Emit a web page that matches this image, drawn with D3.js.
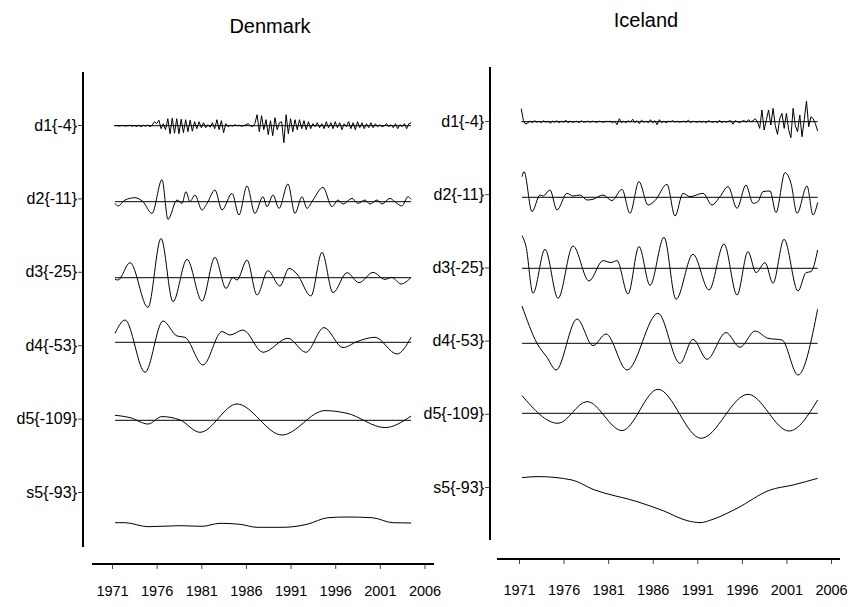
<!DOCTYPE html>
<html><head><meta charset="utf-8">
<script src="https://cdn.jsdelivr.net/npm/d3@7"></script>
<style>
body{margin:0;background:#fff}
text{font-family:Arial,"Liberation Sans",Helvetica,sans-serif;fill:#000}
</style>
</head><body>
<svg id="c" width="855" height="607"></svg>
<script>
// ---------- data ----------
const years = [1971,1976,1981,1986,1991,1996,2001,2006];
const levels = ["d1{-4}","d2{-11}","d3{-25}","d4{-53}","d5{-109}","s5{-93}"];
const d1Start = 1971.25, d1Step = 0.25;

// Denmark
const dkD1 = [0,0.3,-0.3,0,0.3,-0.3,0,0.5,-0.5,0.3,-0.8,0.5,-1,0.5,-0.5,0.8,-1,0.5,
 4,2,5.5,-3,2,-4,7,-8,7.5,-7.5,7,-8,6.5,-7,6,-6,5.5,-5.5,4,-3,4,-2,3,-2,1,-1.5,3,-3,6,-4,5,-7,2,
 -1,0.5,-0.5,1,0,0.5,-0.5,0,1,2,0,-1,2,11,-6,10,-4,6,-9,5,-10,8,-4,3,4,-17,11,-8,7,-6,
 6,-4,6,-3,5,-4,4,-3,2,-1,3,-2,2,-3,4,-2,3,-3,4,-2,3,-4,2,-1,4,-3,3,-4,4,-2,
 3,-3,2,-2,3,-2,2,-1,1,-1,0,2,-1,1,-2,2,-3,1,-1,2,-3,2,3];
const dkD2T = [1971.34,1971.67,1972.46,1973.58,1974.47,1975.48,1976.60,1977.27,1978.28,1978.84,1979.28,1979.73,1980.29,1981.08,1981.64,1982.53,1983.32,1984.44,1985.22,1986.12,1987.01,1987.91,1988.36,1989.03,1989.70,1990.71,1991.49,1992.28,1992.84,1993.51,1994.63,1995.64,1996.31,1996.87,1997.88,1998.55,1999.33,1999.89,2000.68,2001.24,2002.13,2002.69,2003.47,2004.15,2004.5];
const dkD2V = [-1.7,-4.3,1.7,4,0,-11.7,22,-17.7,1.7,-1.7,10,0,6.7,-8.3,-1.7,11.7,-8.3,8.3,-13.3,15.7,-11.7,5,-5,6.7,-6.7,17.7,-11.7,5,-6.7,1.7,14.3,-5,1.7,-2.3,3.3,-1.7,1.7,-2.3,1.7,-2.3,3.3,0,-4.3,5,2.3];
const dkD3T = [1971.34,1971.67,1973.02,1975.03,1976.49,1977.83,1979.40,1981.08,1982.53,1983.77,1984.55,1985.00,1986.12,1987.24,1988.47,1989.81,1990.82,1991.72,1993.28,1994.52,1995.75,1997.32,1998.66,2000.23,2001.57,2002.35,2003.36,2004.5];
const dkD3V = [-1.7,-2.3,15,-29.7,39.3,-24,18.3,-23.3,20.3,-10.7,0.3,-2.3,17.7,-17.3,7,-8.3,9.3,3.7,-18.3,25.3,-15,5,-5,5.3,-1.7,0.3,-6.3,0.3];
const dkD4T = [1971.34,1972.46,1974.70,1976.71,1978.28,1979.17,1981.19,1983.32,1984.21,1985.67,1987.91,1990.71,1992.72,1994.74,1996.87,1998.44,2000.45,2002.92,2004.5];
const dkD4V = [9,22.3,-30,21.3,6.3,5,-22.7,10.7,7.3,12.3,-10,4,-10,14.7,-5.3,0.7,5,-11.7,5];
const dkD5T = [1971.34,1973.02,1975.03,1976.60,1978.62,1980.85,1985.00,1990.04,1994.85,1997.32,2001.57,2004.5];
const dkD5V = [5,2.7,-3.7,3.7,0.3,-12,16.3,-14.7,9.7,7,-7.3,4.3];
const dkS5T = [1971.34,1972.46,1975.03,1978.62,1981.08,1983.10,1985.33,1987.24,1990.15,1992.84,1995.19,1997.32,2000.12,2002.47,2004.5];
const dkS5V = [-30.2,-30.2,-34.2,-33.2,-33.8,-30.8,-31.8,-34.8,-34.8,-31.8,-25.2,-24.5,-25.2,-30.2,-30.5];

// Iceland
const isD1 = [13,1,-2.5,-1,0.5,-1,1,-0.5,0.5,-1,
 1,-0.5,0.5,-1.5,0.5,-0.5,1,-1,0.5,-0.5,
 1.5,-1,0.5,-0.5,0,0.5,-1,1,-0.5,0,
 0.5,-0.5,0.5,0,-0.5,0.5,0,-0.5,0.5,0,
 0.5,-1,0.5,-3,3,-1,0.5,-1,1,-0.5,
 2.5,-1,1,-2,1.5,-0.5,0.5,-1,2,-1,
 1,-3,2,-1,0.5,-1,0.5,0,1,-0.5,
 0.5,-0.5,0,0.5,-0.5,1.5,-1,0.5,0,-0.5,
 0.5,-0.5,0.5,-1,1,0,-0.5,0.5,-1,1.5,
 -1,0.5,-0.5,0.5,1,-2.5,1,0,-1,0.5,
 1,-0.5,2,0,1,3,0,-6.7,11.7,-8.3,
 2,11.7,-3.3,13.3,-4,-12.7,3,8.3,-6.7,8.3,
 -8,-16,13.3,-4,-10,6.7,-15,2,20.7,-5,
 5,3,-2,-9.3];
const isD2T = [1971.34,1971.56,1972.46,1973.36,1973.69,1974.48,1975.26,1976.38,1977.06,1977.84,1978.63,1979.30,1980.42,1981.43,1982.55,1983.45,1984.46,1985.47,1986.26,1987.60,1988.50,1989.40,1990.18,1991.64,1992.65,1993.55,1994.45,1995.46,1996.46,1997.25,1997.81,1998.37,1999.16,1999.83,2000.84,2001.51,2002.19,2003.31,2003.98,2004.5];
const isD2V = [20.7,25.7,-14.3,2.3,1.3,7.3,-12.7,4,1.3,2.3,-2.7,-2,2.3,-3.3,8,-16,15.7,-7.7,-3.3,13,-18.7,4,0.7,4,-7.7,0.7,10.7,-11,12.3,-6,-4.3,5.7,6.3,-15.3,24.7,14,-16,11.3,-17.7,-5.3];
const isD3T = [1971.34,1971.79,1972.57,1973.92,1975.38,1977.06,1978.85,1980.42,1981.32,1981.99,1983.23,1984.46,1985.70,1987.27,1988.61,1990.52,1992.32,1994.00,1995.46,1996.69,1997.59,1998.60,1999.49,2000.73,2002.30,2003.20,2003.76,2004.5];
const isD3V = [32.7,21.7,-25,19,-30,22.3,-12.7,7.7,5.7,7.7,-25.7,21.7,-17,31,-31,14,-21.7,24.3,-26.7,16.7,-4.3,5.7,-15,29,-22.7,-4.3,-3.3,18.3];
const isD4T = [1971.34,1973.02,1974.14,1975.15,1977.51,1979.30,1980.76,1983.12,1986.59,1989.06,1990.52,1992.09,1994.22,1995.79,1997.48,1998.93,2000.50,2002.30,2004.5];
const isD4V = [37.3,0,-14,-26.7,24.3,-2.3,9.3,-26.7,30,-20,4,-16,10.7,-4,12.3,5,3.3,-31.7,34];
const isD5T = [1971.34,1975.38,1978.63,1982.55,1986.59,1991.42,1996.69,2001.29,2004.5];
const isD5V = [17.7,-10,11.7,-17.3,24,-25,19,-17.7,13.3];
const isS5T = [1971.34,1973.13,1976.95,1979.30,1984.24,1987.15,1989.85,1991.31,1992.76,1995.46,1999.16,2001.74,2004.5];
const isS5V = [9.7,10.7,7.3,-2,-14.3,-23.3,-33.3,-35.3,-32,-21,-2.7,2.3,9];

// ---------- drawing ----------
const svg = d3.select("#c");
const d1Times = n => d3.range(n).map(i => d1Start + i * d1Step);

const panels = [
 {title:"Denmark", tx:270, ty:33, xr:[112,424.5], axY:564, axX:[92,434], yX:83, yR:[72,547],
  lab:[125,492], base:[125.7,201.7,277.7,342.3,420.3,492.5], tly:596,
  series:[[d1Times(dkD1.length),dkD1],[dkD2T,dkD2V],[dkD3T,dkD3V],[dkD4T,dkD4V],[dkD5T,dkD5V],[dkS5T,dkS5V]]},
 {title:"Iceland", tx:646, ty:27, xr:[519,831], axY:559, axX:[497,840], yX:490, yR:[67,540],
  lab:[121,487], base:[121.7,197.3,268.3,343.3,413.3,487.3], tly:595,
  series:[[d1Times(isD1.length),isD1],[isD2T,isD2V],[isD3T,isD3V],[isD4T,isD4V],[isD5T,isD5V],[isS5T,isS5V]]}
];

const v = d3.scaleLinear().domain([-40,40]).range([40,-40]);

panels.forEach(p => {
  const g = svg.append("g");
  const x = d3.scaleLinear().domain([years[0], years[years.length-1]]).range(p.xr);
  const yl = d3.scalePoint().domain(levels).range(p.lab);

  g.append("text").attr("x",p.tx).attr("y",p.ty).attr("text-anchor","middle")
   .style("font-size","20px").text(p.title);

  // x axis
  const xa = g.append("g").attr("transform",`translate(0,${p.axY})`)
   .call(d3.axisBottom(x).tickValues(years).tickFormat(d3.format("d")).tickSize(5).tickPadding(14));
  xa.select(".domain").remove();
  xa.selectAll(".tick line").attr("stroke","#444");
  xa.selectAll(".tick text").style("font-size","14.5px").attr("font-family",null).attr("dy",null)
    .attr("y", p.tly - p.axY);
  g.append("line").attr("x1",p.axX[0]).attr("x2",p.axX[1]).attr("y1",p.axY).attr("y2",p.axY)
   .attr("stroke","#000").attr("stroke-width",2);

  // y label axis
  const ya = g.append("g").attr("transform",`translate(${p.yX},0)`)
   .call(d3.axisLeft(yl).tickSize(5).tickPadding(1));
  ya.select(".domain").remove();
  ya.selectAll(".tick line").attr("stroke","#444");
  ya.selectAll(".tick text").style("font-size","16px").attr("font-family",null);
  g.append("line").attr("x1",p.yX).attr("x2",p.yX).attr("y1",p.yR[0]).attr("y2",p.yR[1])
   .attr("stroke","#000").attr("stroke-width",2);

  // series
  p.series.forEach((s, k) => {
    const [ts, vs] = s;
    const b = p.base[k];
    const pts = ts.map((t,i) => [x(t), b + v(vs[i])]);
    const line = d3.line().curve(k === 0 ? d3.curveLinear : d3.curveMonotoneX);
    if (k < 5) {
      g.append("line").attr("x1",x(ts[0])).attr("x2",x(ts[ts.length-1]))
       .attr("y1",b).attr("y2",b).attr("stroke","#000").attr("stroke-width",1);
    }
    g.append("path").attr("d",line(pts)).attr("fill","none").attr("stroke","#000").attr("stroke-width",1);
  });
});
</script>
</body></html>
